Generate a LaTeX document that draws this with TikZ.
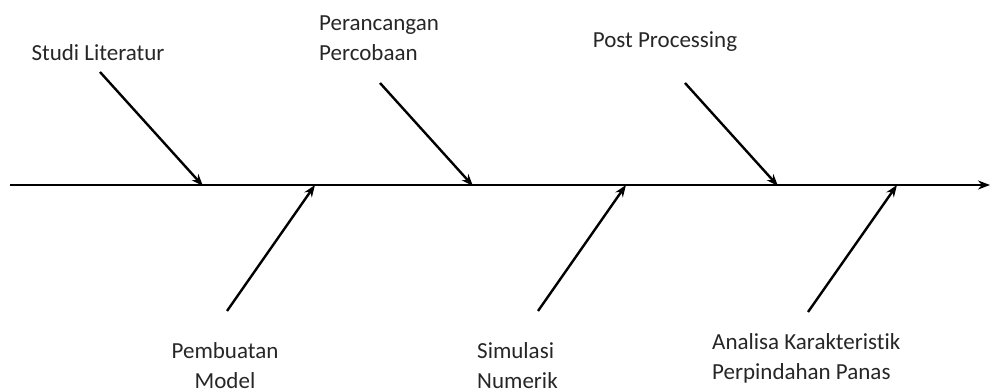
\documentclass[tikz,border=0pt]{standalone}
\usepackage{fontspec}
\setmainfont[Ligatures=NoCommon]{Carlito}
\usetikzlibrary{arrows.meta}

\begin{document}
\begin{tikzpicture}[
        x=1pt, y=-1pt,
        >={Stealth[length=12pt, width=9pt]},
        font=\fontsize{23}{30}\selectfont,
        lbl/.style={inner sep=0pt, text=black!85},
        spine/.style={->, line width=2.8pt},
        bone/.style={->, line width=2.4pt}
    ]
        \useasboundingbox (0,0) rectangle (990,390);
        % spine
        \coordinate (tail) at (10,185);
        \coordinate (head) at (990,185);
        \draw[spine] (tail) -- (head);
        % labels
        \node[lbl] (studi) at (98,53) {Studi Literatur};
        \node[lbl, align=left, anchor=west] (rancang) at (319,38) {Perancangan\\Percobaan};
        \node[lbl] (post) at (665,42) {Post Processing};
        \node[lbl, align=center] (model) at (225,366) {Pembuatan\\Model};
        \node[lbl, align=left, anchor=west] (simulasi) at (477,366) {Simulasi\\Numerik};
        \node[lbl, align=left, anchor=west] (analisa) at (712,358) {Analisa Karakteristik\\Perpindahan Panas};
        % bones
        \coordinate (studi-s) at (100,72);   \coordinate (studi-e) at (203,186);
        \coordinate (model-s) at (227,311);  \coordinate (model-e) at (315,185);
        \coordinate (rancang-s) at (380,83); \coordinate (rancang-e) at (473,186);
        \coordinate (simulasi-s) at (538,311); \coordinate (simulasi-e) at (626,185);
        \coordinate (post-s) at (685,83);    \coordinate (post-e) at (778,186);
        \coordinate (analisa-s) at (808,312); \coordinate (analisa-e) at (897,185);
        \draw[bone] (studi-s) -- (studi-e);
        \draw[bone] (model-s) -- (model-e);
        \draw[bone] (rancang-s) -- (rancang-e);
        \draw[bone] (simulasi-s) -- (simulasi-e);
        \draw[bone] (post-s) -- (post-e);
        \draw[bone] (analisa-s) -- (analisa-e);
    \end{tikzpicture}
\end{document}
